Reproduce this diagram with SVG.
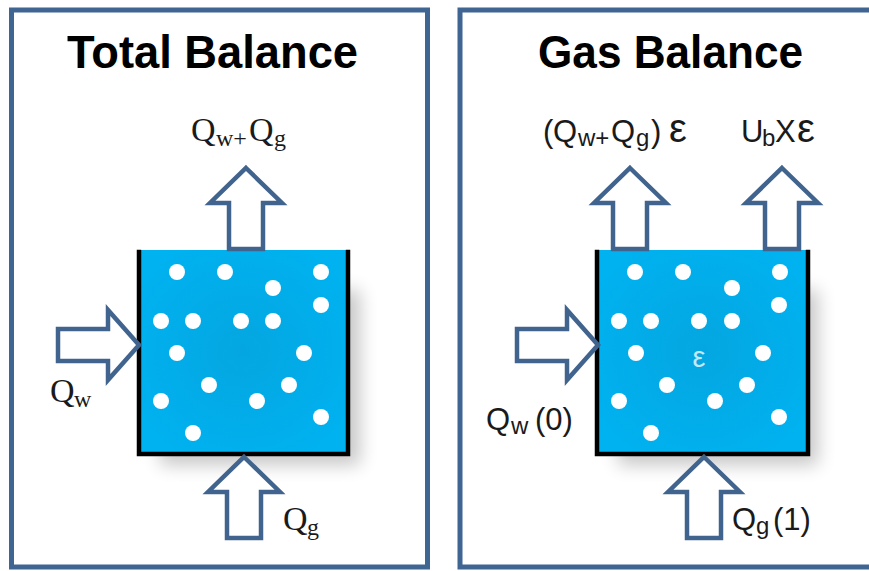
<svg xmlns="http://www.w3.org/2000/svg" xmlns:xlink="http://www.w3.org/1999/xlink" width="869" height="571" viewBox="0 0 869 571">
  <style>
    .frame { fill: #ffffff; stroke: #3f6592; stroke-width: 5; }
    .title { font-family: "Liberation Sans", Arial, sans-serif; font-weight: bold; font-size: 46px; fill: #000000; }
    .tank { fill: url(#water); }
    .wall { fill: none; stroke: #000000; stroke-width: 4.5; stroke-linecap: square; }
    .dot { fill: #ffffff; }
    .arrow { fill: #ffffff; stroke: #41648f; stroke-width: 4.5; stroke-linejoin: miter; }
    .serif { font-family: "Liberation Serif", "Times New Roman", serif; font-size: 34px; fill: #1a1a1a; }
    .sans { font-family: "Liberation Sans", Arial, sans-serif; font-size: 31px; fill: #1a1a1a; }
    .sub { font-size: 24px; }
    .bigeps { font-size: 40px; }
    .eps { font-family: "Liberation Sans", Arial, sans-serif; font-size: 29px; fill: #c4e8f8; }
  </style>
  <defs>
    <radialGradient id="water" cx="0.5" cy="0.5" r="0.6">
      <stop offset="0" stop-color="#04a6e0"/>
      <stop offset="1" stop-color="#00b2f0"/>
    </radialGradient>
    <filter id="shadow" x="-30%" y="-30%" width="160%" height="160%">
      <feGaussianBlur stdDeviation="9"/>
    </filter>
    <path id="upArrow" d="M0,0 L36,35 L17,35 L17,81 L-17,81 L-17,35 L-36,35 Z"/>
    <path id="rightArrow" d="M0,0 L-31,-35 L-31,-16 L-81,-16 L-81,16 L-31,16 L-31,35 Z"/>
    <circle id="dot" r="8"/>
  </defs>

  <!-- Left panel: Total Balance -->
  <g id="panel-total">
    <rect class="frame" x="11.5" y="10" width="416" height="557"/>
    <text class="title" x="67" y="68" textLength="291" lengthAdjust="spacingAndGlyphs">Total Balance</text>
  </g>

  <g id="tank-total">
    <rect x="160" y="290" width="200" height="175" fill="#000" opacity="0.22" filter="url(#shadow)"/>
    <rect class="tank" x="139" y="250" width="209" height="204"/>
    <path class="wall" d="M139,252 V454 H348 V252"/>
    <g class="dot">
      <use xlink:href="#dot" x="177" y="272"/>
      <use xlink:href="#dot" x="225" y="272"/>
      <use xlink:href="#dot" x="321" y="272"/>
      <use xlink:href="#dot" x="273" y="288"/>
      <use xlink:href="#dot" x="321" y="305"/>
      <use xlink:href="#dot" x="161" y="321"/>
      <use xlink:href="#dot" x="193" y="321"/>
      <use xlink:href="#dot" x="241" y="321"/>
      <use xlink:href="#dot" x="273" y="321"/>
      <use xlink:href="#dot" x="177" y="353"/>
      <use xlink:href="#dot" x="304" y="353"/>
      <use xlink:href="#dot" x="209" y="385"/>
      <use xlink:href="#dot" x="289" y="385"/>
      <use xlink:href="#dot" x="161" y="401"/>
      <use xlink:href="#dot" x="257" y="401"/>
      <use xlink:href="#dot" x="321" y="417"/>
      <use xlink:href="#dot" x="193" y="433"/>
    </g>
  </g>

  <!-- Right panel: Gas Balance -->
  <g id="panel-gas">
    <rect class="frame" x="460" y="10" width="430" height="557"/>
    <text class="title" x="538" y="68" textLength="265" lengthAdjust="spacingAndGlyphs">Gas Balance</text>
  </g>

  <g id="tank-gas">
    <rect x="618" y="290" width="200" height="175" fill="#000" opacity="0.22" filter="url(#shadow)"/>
    <rect class="tank" x="597" y="250" width="211" height="204"/>
    <path class="wall" d="M597,252 V454 H808 V252"/>
    <g class="dot">
      <use xlink:href="#dot" x="635" y="272"/>
      <use xlink:href="#dot" x="683" y="272"/>
      <use xlink:href="#dot" x="780" y="272"/>
      <use xlink:href="#dot" x="732" y="288"/>
      <use xlink:href="#dot" x="779" y="305"/>
      <use xlink:href="#dot" x="619" y="321"/>
      <use xlink:href="#dot" x="651" y="321"/>
      <use xlink:href="#dot" x="699" y="321"/>
      <use xlink:href="#dot" x="732" y="321"/>
      <use xlink:href="#dot" x="636" y="353"/>
      <use xlink:href="#dot" x="763" y="353"/>
      <use xlink:href="#dot" x="667" y="385"/>
      <use xlink:href="#dot" x="747" y="385"/>
      <use xlink:href="#dot" x="619" y="401"/>
      <use xlink:href="#dot" x="715" y="401"/>
      <use xlink:href="#dot" x="779" y="417"/>
      <use xlink:href="#dot" x="651" y="433"/>
    </g>
    <text class="eps" x="699" y="367" text-anchor="middle">ε</text>
  </g>

  <!-- Flow arrows -->
  <g id="connectors">
    <use class="arrow" xlink:href="#upArrow" x="246" y="168"/>
    <use class="arrow" xlink:href="#rightArrow" x="139" y="345"/>
    <use class="arrow" xlink:href="#upArrow" x="244" y="457"/>
    <use class="arrow" xlink:href="#upArrow" x="630" y="168"/>
    <use class="arrow" xlink:href="#upArrow" x="782" y="168"/>
    <use class="arrow" xlink:href="#rightArrow" x="598" y="345"/>
    <use class="arrow" xlink:href="#upArrow" x="704" y="457"/>
  </g>

  <!-- Flow labels -->
  <g id="labels">
    <text class="serif" y="141"><tspan x="191">Q</tspan><tspan class="sub" x="216" dy="5">w+</tspan><tspan x="249" dy="-5">Q</tspan><tspan class="sub" x="274" dy="5">g</tspan></text>
    <text class="serif" y="402"><tspan x="50">Q</tspan><tspan class="sub" x="74" dy="5">w</tspan></text>
    <text class="serif" y="530"><tspan x="283">Q</tspan><tspan class="sub" x="307" dy="5">g</tspan></text>

    <text class="sans" y="142"><tspan x="543">(</tspan><tspan x="553">Q</tspan><tspan class="sub" x="578" dy="4">w+</tspan><tspan x="611" dy="-4">Q</tspan><tspan class="sub" x="636" dy="4">g</tspan><tspan x="651" dy="-4">)</tspan><tspan class="bigeps" x="669">ε</tspan></text>
    <text class="sans" y="142"><tspan x="741">U</tspan><tspan class="sub" x="762" dy="4">b</tspan><tspan x="775" dy="-4">X</tspan><tspan class="bigeps" x="797">ε</tspan></text>
    <text class="sans" y="430"><tspan x="486">Q</tspan><tspan class="sub" x="511" dy="4">w</tspan><tspan x="535" dy="-4">(0)</tspan></text>
    <text class="sans" y="530"><tspan x="732">Q</tspan><tspan class="sub" x="756" dy="4">g</tspan><tspan x="773" dy="-4">(1)</tspan></text>
  </g>
</svg>
